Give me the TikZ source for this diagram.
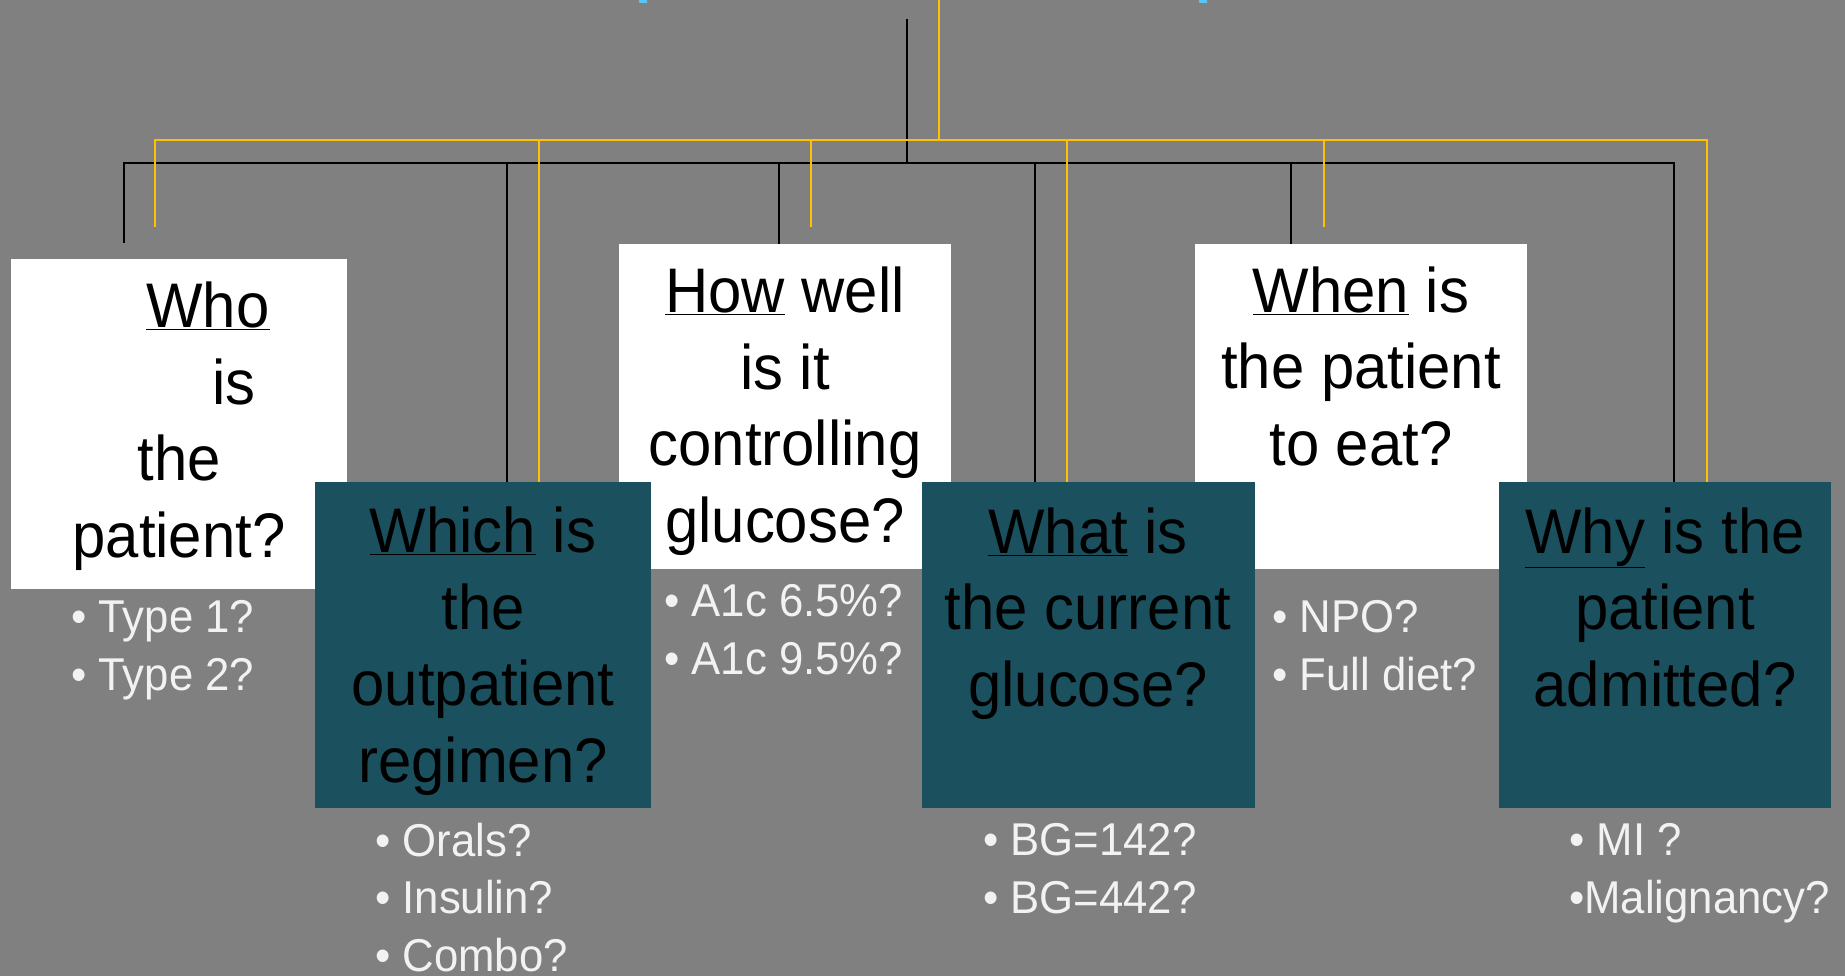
\documentclass[tikz,border=0pt]{standalone}
\usepackage{fontspec}
\setmainfont[FakeStretch=0.95]{Liberation Sans}
\usepackage{xcolor}
\definecolor{slideGrey}{HTML}{808080}
\definecolor{boxTeal}{HTML}{1B505F}
\definecolor{lineGold}{HTML}{FFC000}
\definecolor{titleCyan}{HTML}{5BC5F2}
\definecolor{ansWhite}{HTML}{F2F2F2}
\newcommand{\qfont}{\fontsize{63}{76.5}\selectfont}
\newcommand{\afont}{\fontsize{46}{57.5}\selectfont}

\begin{document}
\begin{tikzpicture}[
    x=1pt, y=-1pt,
    qbox/.style={rectangle, fill=white, inner sep=0pt},
    qboxdk/.style={rectangle, fill=boxTeal, inner sep=0pt},
    qtext/.style={align=center, font=\qfont, text=black, inner sep=0pt, anchor=base},
    ans/.style={align=left, font=\afont, text=ansWhite, inner sep=0pt, anchor=base west},
    blk/.style={draw=black, line width=1.6pt},
    gold/.style={draw=lineGold, line width=1.6pt},
]
\fill[slideGrey] (0,0) rectangle (1845,976);
\clip (0,0) rectangle (1845,976);
% bits of the cut-off title
\fill[titleCyan] (639,0) rectangle (647,3);
\fill[titleCyan] (1199,0) rectangle (1207,3);

% question boxes (placed first so the lines can find them)
\node[qbox, minimum width=336, minimum height=330] (who)  at (179,424)    {};
\node[qbox, minimum width=332, minimum height=325] (how)  at (785,406.5)  {};
\node[qbox, minimum width=332, minimum height=325] (when) at (1361,406.5) {};
\node[qboxdk, minimum width=336, minimum height=326] (which) at (483,645)    {};
\node[qboxdk, minimum width=333, minimum height=326] (what)  at (1088.5,645) {};
\node[qboxdk, minimum width=332, minimum height=326] (why)   at (1665,645)   {};

% tree lines
\coordinate (bTop) at (907,19);
\coordinate (bBar) at (907,163);
\coordinate (bWho) at (124,243);
\coordinate (yTop) at (939,0);
\coordinate (yBar) at (939,140);
\coordinate (yWho)  at (155,227);
\coordinate (yHow)  at (811,227);
\coordinate (yWhen) at (1324,227);

\draw[blk] (bTop) -- (bBar);
\draw[blk, line width=2.6pt] (bBar) -| (bWho);
\draw[blk, line width=2.6pt] (bBar) -| ([xshift=9]why.north);
\draw[blk] (bBar) -| ([xshift=24]which.north);
\draw[blk] (bBar) -| ([xshift=-6]how.north);
\draw[blk] (bBar) -| ([xshift=-53.5]what.north);
\draw[blk] (bBar) -| ([xshift=-70]when.north);

\draw[gold] (yTop) -- (yBar);
\draw[gold, line width=2.6pt] (yBar) -| (yWho);
\draw[gold, line width=2.6pt] (yBar) -| ([xshift=42]why.north);
\draw[gold] (yBar) -| ([xshift=56]which.north);
\draw[gold] (yBar) -| (yHow);
\draw[gold] (yBar) -| ([xshift=-21.5]what.north);
\draw[gold] (yBar) -| (yWhen);

% redraw boxes over the line ends
\node[qbox, minimum width=336, minimum height=330] at (who)  {};
\node[qbox, minimum width=332, minimum height=325] at (how)  {};
\node[qbox, minimum width=332, minimum height=325] at (when) {};
\node[qboxdk, minimum width=336, minimum height=326] at (which) {};
\node[qboxdk, minimum width=333, minimum height=326] at (what)  {};
\node[qboxdk, minimum width=332, minimum height=326] at (why)   {};

% question texts (base = last line)
\node[qtext] (whoTxt)   at (179,557)  {\hspace*{58pt}\underline{Who}\\\hspace*{110pt}is\\the\\patient?};
\node[qtext] (whichTxt) at (483,782)  {\underline{Which} is\\the\\outpatient\\regimen?};
\node[qtext] (howTxt)   at (785,542)  {\underline{How} well\\is it\\controlling\\glucose?};
\node[qtext] (whatTxt)  at (1088,706) {\underline{What} is\\the current\\glucose?};
\node[qtext] (whenTxt)  at (1361,465) {\underline{When} is\\the patient\\to eat?};
\node[qtext] (whyTxt)   at (1665,706) {\underline{Why} is the\\patient\\admitted?};

% answer lists
\node[ans] (whoAns)   at (71,690)   {• Type 1?\\• Type 2?};
\node[ans] (howAns)   at (664,674)  {• A1c 6.5\%?\\• A1c 9.5\%?};
\node[ans] (whenAns)  at (1272,690) {• NPO?\\• Full diet?};
\node[ans] (whichAns) at (375,971)  {• Orals?\\• Insulin?\\• Combo?};
\node[ans] (whatAns)  at (983,913)  {• BG=142?\\• BG=442?};
\node[ans] (whyAns)   at (1569,913) {• MI ?\\•Malignancy?};
\end{tikzpicture}
\end{document}
